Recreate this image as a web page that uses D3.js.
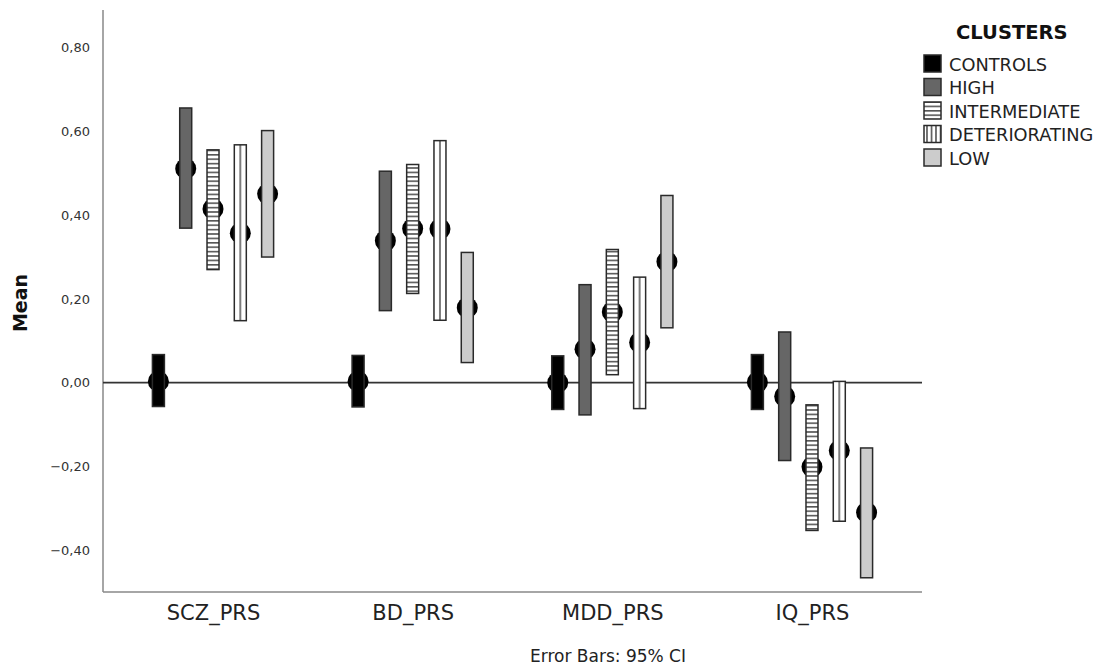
<!DOCTYPE html>
<html>
<head>
<meta charset="utf-8">
<script src="https://cdn.jsdelivr.net/npm/d3@7"></script>
<style>
  html, body { margin: 0; padding: 0; background: #fff; }
  svg { display: block; font-family: "DejaVu Sans", "Noto Sans", sans-serif; }
</style>
</head>
<body>
<svg id="chart" width="1101" height="668"></svg>
<script>
// Polygenic risk score means by cluster, with 95% confidence intervals
const categories = ["SCZ_PRS", "BD_PRS", "MDD_PRS", "IQ_PRS"];
const clusters = ["CONTROLS", "HIGH", "INTERMEDIATE", "DETERIORATING", "LOW"];

const meanControls      = [0.003, 0.003, 0.000, 0.001];
const meanHigh          = [0.511, 0.339, 0.080, -0.033];
const meanIntermediate  = [0.415, 0.368, 0.169, -0.201];
const meanDeteriorating = [0.357, 0.367, 0.096, -0.162];
const meanLow           = [0.451, 0.179, 0.289, -0.310];

const lowerControls      = [-0.057, -0.058, -0.064, -0.064];
const lowerHigh          = [0.369, 0.172, -0.077, -0.186];
const lowerIntermediate  = [0.270, 0.213, 0.019, -0.353];
const lowerDeteriorating = [0.148, 0.149, -0.062, -0.331];
const lowerLow           = [0.300, 0.048, 0.131, -0.466];

const upperControls      = [0.067, 0.065, 0.064, 0.067];
const upperHigh          = [0.656, 0.505, 0.234, 0.121];
const upperIntermediate  = [0.556, 0.521, 0.318, -0.053];
const upperDeteriorating = [0.568, 0.578, 0.252, 0.003];
const upperLow           = [0.602, 0.311, 0.447, -0.156];

const yTicks = [-0.4, -0.2, 0, 0.2, 0.4, 0.6, 0.8];

const means = [meanControls, meanHigh, meanIntermediate, meanDeteriorating, meanLow];
const lowers = [lowerControls, lowerHigh, lowerIntermediate, lowerDeteriorating, lowerLow];
const uppers = [upperControls, upperHigh, upperIntermediate, upperDeteriorating, upperLow];

const rows = [];
clusters.forEach((c, ci) => {
  categories.forEach((cat, k) => {
    rows.push({ cluster: c, category: cat, mean: means[ci][k], lo: lowers[ci][k], hi: uppers[ci][k] });
  });
});

const svg = d3.select("#chart");
const plot = { left: 103, right: 922, top: 10, bottom: 592 };

const x = d3.scalePoint().domain(categories).range([plot.left, plot.right]).padding(0.551);
const xInner = d3.scalePoint().domain(clusters).range([-54.6, 54.6]);
const y = d3.scaleLinear().domain([-0.5, 0.89]).range([plot.bottom, plot.top]);

const fills = {
  CONTROLS: "#000000",
  HIGH: "#666666",
  INTERMEDIATE: "url(#hstripe)",
  DETERIORATING: "url(#vstripe)",
  LOW: "#cccccc"
};
const legendFills = Object.assign({}, fills, { DETERIORATING: "url(#vstripeLegend)" });

// Hatch patterns
const defs = svg.append("defs");
const hp = defs.append("pattern").attr("id", "hstripe")
  .attr("patternUnits", "userSpaceOnUse").attr("width", 8).attr("height", 4.4);
hp.append("rect").attr("width", 8).attr("height", 4.4).attr("fill", "#fff");
hp.append("rect").attr("y", 0).attr("width", 8).attr("height", 1.6).attr("fill", "#555");

const vp = defs.append("pattern").attr("id", "vstripe")
  .attr("patternUnits", "objectBoundingBox").attr("patternContentUnits", "objectBoundingBox")
  .attr("width", 1).attr("height", 1);
vp.append("rect").attr("width", 1).attr("height", 1).attr("fill", "#fff");
vp.append("rect").attr("x", 0.42).attr("width", 0.16).attr("height", 1).attr("fill", "#777");

const vpl = defs.append("pattern").attr("id", "vstripeLegend")
  .attr("patternUnits", "userSpaceOnUse").attr("width", 4.5).attr("height", 8)
  .attr("x", 924 + 2.2);
vpl.append("rect").attr("width", 4.5).attr("height", 8).attr("fill", "#fff");
vpl.append("rect").attr("x", 0).attr("width", 1.6).attr("height", 8).attr("fill", "#555");

// Axes
const yAxis = d3.axisLeft(y).tickValues(yTicks).tickSize(0).tickPadding(13)
  .tickFormat(d => d3.format(".2f")(d).replace(".", ",").replace("-", "\u2212"));
const gy = svg.append("g").attr("transform", `translate(${plot.left},0)`).call(yAxis);
gy.select(".domain").remove();
gy.selectAll("text").attr("fill", "#333").attr("font-size", 13)
  .attr("font-family", "DejaVu Sans, sans-serif");

svg.append("line").attr("x1", plot.left).attr("x2", plot.left)
  .attr("y1", plot.top).attr("y2", plot.bottom)
  .attr("stroke", "#888").attr("stroke-width", 1.5);
svg.append("line").attr("x1", plot.left).attr("x2", plot.right)
  .attr("y1", plot.bottom).attr("y2", plot.bottom)
  .attr("stroke", "#888").attr("stroke-width", 1.5);

const xAxis = d3.axisBottom(x).tickSize(0).tickPadding(13);
const gx = svg.append("g").attr("transform", `translate(0,${plot.bottom})`).call(xAxis);
gx.select(".domain").remove();
gx.selectAll("text").attr("fill", "#222").attr("font-size", 21)
  .attr("font-family", "DejaVu Sans, sans-serif");

// Reference line at zero
svg.append("line").attr("x1", plot.left).attr("x2", plot.right)
  .attr("y1", y(0)).attr("y2", y(0))
  .attr("stroke", "#333").attr("stroke-width", 1.6);

// Mean markers (drawn beneath the interval bars)
const barW = 12;
svg.append("g").selectAll("circle").data(rows).join("circle")
  .attr("cx", d => x(d.category) + xInner(d.cluster))
  .attr("cy", d => y(d.mean))
  .attr("r", 10.5)
  .attr("fill", "#000");

// Confidence interval bars
svg.append("g").selectAll("rect").data(rows).join("rect")
  .attr("x", d => x(d.category) + xInner(d.cluster) - barW / 2)
  .attr("y", d => y(d.hi))
  .attr("width", barW)
  .attr("height", d => y(d.lo) - y(d.hi))
  .attr("fill", d => fills[d.cluster])
  .attr("stroke", "#2a2a2a")
  .attr("stroke-width", 1.5);

// Axis titles
svg.append("text")
  .attr("transform", `translate(27,303) rotate(-90)`)
  .attr("text-anchor", "middle")
  .attr("font-size", 19).attr("font-weight", "bold").attr("fill", "#111")
  .text("Mean");

svg.append("text")
  .attr("x", 608).attr("y", 662)
  .attr("text-anchor", "middle")
  .attr("font-size", 17).attr("fill", "#222")
  .text("Error Bars: 95% CI");

// Legend
const legend = svg.append("g");
legend.append("text").attr("x", 956).attr("y", 39)
  .attr("font-size", 19.5).attr("font-weight", "bold").attr("fill", "#111")
  .text("CLUSTERS");
const rowY = d3.scalePoint().domain(clusters).range([55, 149]);
const items = legend.selectAll("g.item").data(clusters).join("g").attr("class", "item");
items.append("rect")
  .attr("x", 924).attr("y", d => rowY(d))
  .attr("width", 17).attr("height", 17)
  .attr("fill", d => legendFills[d])
  .attr("stroke", "#2a2a2a").attr("stroke-width", 1.5);
items.append("text")
  .attr("x", 949).attr("y", d => rowY(d) + 15.5)
  .attr("font-size", 17.8).attr("fill", "#222")
  .text(d => d);
</script>
</body>
</html>
